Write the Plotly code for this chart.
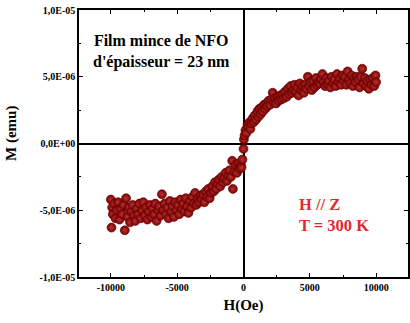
import plotly.graph_objects as go

# Magnetic field H (Oe) and magnetization M (emu)
H_pos = [0, 30, 80, 150, 220, 300, 380, 450, 520, 600, 700, 780, 850, 950, 1050, 1120,
         1200, 1300, 1380, 1450, 1550, 1650, 1720, 1800, 1900, 2000, 2100, 2200, 2250, 2350,
         2450, 2550, 2650, 2750, 2850, 2950, 3050, 3150, 3250, 3350, 3450, 3550, 3650, 3750,
         3850, 3950, 4050, 4150, 4250, 4350, 4450, 4550, 4650, 4750, 4850, 4950, 5050, 5150,
         5250, 5350, 5450, 5550, 5650, 5750, 5850, 5950, 6050, 6150, 6250, 6350, 6450, 6550,
         6650, 6750, 6850, 6950, 7050, 7150, 7250, 7350, 7450, 7550, 7650, 7750, 7850, 7950,
         8050, 8150, 8250, 8350, 8450, 8550, 8650, 8750, 8850, 8950, 9050, 9150, 9250, 9350,
         9450, 9550, 9650, 9750, 9850, 9950, 10000]
M_pos = [-0.4, 0.3, 0.6, 1.0, 0.8, 1.4, 1.2, 1.6, 1.1, 1.5, 1.9, 1.6, 2.1, 1.8, 2.4, 2.0,
         2.6, 2.2, 2.7, 2.4, 2.9, 2.6, 3.0, 2.8, 3.2, 2.9, 3.3, 3.8, 3.1, 3.4,
         3.0, 3.5, 3.2, 3.6, 3.3, 3.7, 3.4, 3.9, 3.5, 4.1, 3.7, 4.3, 3.8, 4.0,
         4.4, 3.9, 4.2, 3.6, 4.5, 4.0, 4.3, 3.8, 4.4, 4.1, 5.0, 4.3, 4.6, 4.0,
         4.7, 4.2, 4.9, 4.4, 4.6, 4.5, 4.8, 5.2, 4.6, 4.3, 4.9, 4.4, 4.7, 4.2,
         5.0, 4.5, 4.8, 4.3, 5.2, 4.6, 4.9, 4.4, 5.1, 4.7, 5.0, 4.4, 5.4, 4.8,
         4.5, 5.1, 4.3, 4.9, 4.6, 5.0, 4.8, 4.2, 5.0, 5.6, 4.5, 4.9, 4.3, 4.7,
         4.1, 4.8, 4.4, 4.9, 4.3, 5.1, 4.6]

H_neg = [-10000, -9950, -9900, -9850, -9750, -9650, -9550, -9450, -9350, -9250, -9150,
         -9050, -8950, -8850, -8750, -8650, -8550, -8450, -8350, -8250, -8150, -8050,
         -7950, -7850, -7750, -7650, -7550, -7450, -7350, -7250, -7150, -7050, -6950,
         -6850, -6750, -6650, -6550, -6450, -6350, -6250, -6150, -6050, -5950, -5850,
         -5750, -5650, -5550, -5450, -5350, -5250, -5150, -5050, -4950, -4850, -4750,
         -4650, -4550, -4450, -4350, -4250, -4150, -4050, -3950, -3850, -3750, -3650,
         -3550, -3450, -3350, -3250, -3150, -3050, -2950, -2850, -2750, -2650, -2550,
         -2450, -2350, -2250, -2150, -2050, -1950, -1850, -1750, -1650, -1550, -1450,
         -1350, -1250, -1150, -1050, -950, -850, -800, -700, -600, -500, -400, -300,
         -200, -150, -80]
M_neg = [-4.2, -6.3, -4.8, -5.3, -4.5, -5.6, -5.0, -4.4, -5.7, -4.9, -5.3,
         -4.6, -6.5, -4.1, -5.5, -4.8, -5.9, -5.1, -4.6, -5.4, -5.8, -4.9,
         -5.3, -4.5, -5.6, -5.0, -4.4, -5.4, -4.8, -5.7, -5.1, -4.6, -5.5,
         -4.9, -5.3, -4.5, -5.8, -5.0, -4.7, -5.4, -3.8, -5.0, -4.5, -5.3,
         -4.8, -5.6, -4.3, -5.1, -4.7, -5.5, -4.4, -5.0, -4.6, -5.3, -4.2,
         -4.9, -4.5, -5.1, -4.1, -4.7, -5.2, -4.3, -4.8, -4.0, -4.5, -3.7,
         -4.6, -4.1, -4.4, -3.9, -4.2, -3.8, -4.4, -3.6, -4.0, -3.4, -4.1,
         -3.7, -3.2, -3.6, -2.9, -3.4, -3.0, -2.7, -3.2, -2.5, -2.9, -2.6,
         -2.2, -2.8, -2.4, -2.0, -2.5, -1.3, -3.4, -2.1, -1.6, -2.2, -1.5, -1.9,
         -1.6, -1.8, -1.2]

x_tickvals = [-10000, -5000, 0, 5000, 10000]
x_ticktext = ["-10000", "-5000", "0", "5000", "10000"]
y_tickvals = [-1e-5, -5e-6, 0, 5e-6, 1e-5]
y_ticktext = ["-1,0E-05", "-5,0E-06", "0,0E+00", "5,0E-06", "1,0E-05"]

H_all = H_neg + H_pos
M_all = [m * 1e-6 for m in (M_neg + M_pos)]

FONT = "Liberation Serif"

# layout geometry (pixels)
L, R, T, B = 79, 2, 10, 46
W, Hh = 410, 323
pw, ph = W - L - R, Hh - T - B


def px(xp):
    return (xp - L) / pw


def py(yp):
    return 1 - (yp - T) / ph


fig = go.Figure()
fig.add_trace(go.Scatter(
    x=H_all, y=M_all, mode="markers",
    marker=dict(size=9, color="#850000",
                line=dict(width=0.6, color="#5a0000"),
                gradient=dict(type="radial", color="#b03838")),
    showlegend=False,
))

axis_common = dict(
    showline=True, linecolor="black", linewidth=1.5, mirror="allticks",
    ticks="inside", ticklen=4, tickwidth=1.2, tickcolor="black",
    showgrid=False, zeroline=True, zerolinecolor="black", zerolinewidth=1.5,
    tickfont=dict(family=FONT, size=10, color="black", weight="bold"),
    automargin=False,
)

fig.update_xaxes(
    range=[-12400, 12400], tickvals=x_tickvals, ticktext=x_ticktext,
    minor=dict(dtick=2500, ticks="inside", ticklen=2.5, tickcolor="black", tickwidth=1),
    title=dict(text="<b>H(Oe)</b>", font=dict(family=FONT, size=15, color="black"), standoff=8),
    **axis_common,
)
fig.update_yaxes(
    range=[-1e-5, 1e-5], tickvals=y_tickvals, ticktext=y_ticktext,
    minor=dict(dtick=2.5e-6, ticks="inside", ticklen=2.5, tickcolor="black", tickwidth=1),
    **axis_common,
)

fig.add_annotation(
    x=px(11), y=py(134), xref="paper", yref="paper", showarrow=False,
    xanchor="center", yanchor="middle", textangle=-90,
    text="<b>M (emu)</b>",
    font=dict(family=FONT, size=15, color="black"),
)
fig.add_annotation(
    x=px(161), y=py(52), xref="paper", yref="paper", showarrow=False,
    xanchor="center", yanchor="middle",
    text="<b>Film mince de NFO<br>d'épaisseur = 23 nm</b>",
    font=dict(family=FONT, size=16, color="black"), align="center",
)
fig.add_annotation(
    x=px(297), y=py(215), xref="paper", yref="paper", showarrow=False,
    xanchor="left", yanchor="middle",
    text="<b>H // Z<br>T = 300 K</b>",
    font=dict(family=FONT, size=16.5, color="#e02a30"), align="left",
)

fig.update_layout(
    width=W, height=Hh, margin=dict(l=L, r=R, t=T, b=B),
    plot_bgcolor="white", paper_bgcolor="white",
)

fig.write_html("out.html", config={"displayModeBar": False},
               post_script="document.body.style.margin='0';")
